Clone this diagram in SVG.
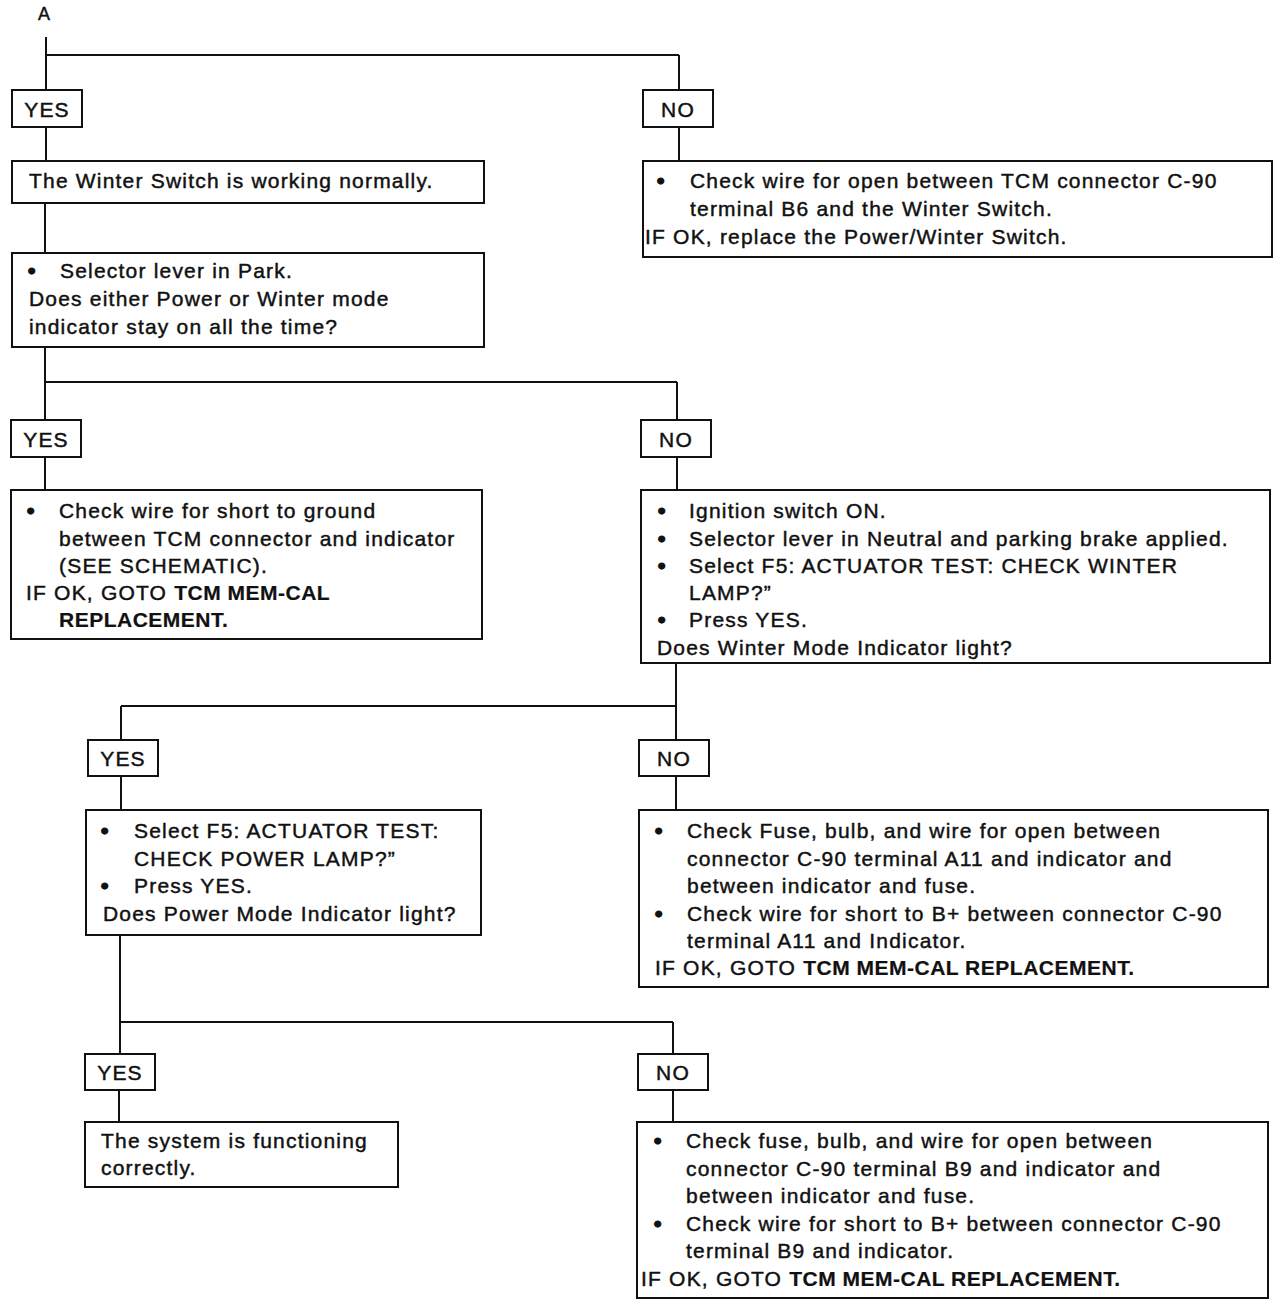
<svg xmlns="http://www.w3.org/2000/svg" width="1280" height="1308" viewBox="0 0 1280 1308">
<style>
text{font-family:"Liberation Sans",Arial,sans-serif;font-size:21px;fill:#111;letter-spacing:1.2px;stroke:#111;stroke-width:0.45px}
.b{font-weight:bold;letter-spacing:0.5px;stroke-width:0.2px}
.lbl{text-anchor:middle}
.bu{font-weight:bold;letter-spacing:0;stroke-width:1.3px}
rect{fill:#fff;stroke:#111;stroke-width:2}
.c line{stroke:#111;stroke-width:2}
</style>
<rect x="0" y="0" width="1280" height="1308" style="fill:#fff;stroke:none"/>
<text x="38" y="20" style="font-size:18px">A</text>
<g class="c">
<line x1="46" y1="37" x2="46" y2="90"/>
<line x1="46" y1="55" x2="679" y2="55"/>
<line x1="679" y1="55" x2="679" y2="90"/>
<line x1="46" y1="127" x2="46" y2="161"/>
<line x1="679" y1="127" x2="679" y2="161"/>
<line x1="45" y1="203" x2="45" y2="253"/>
<line x1="45" y1="347" x2="45" y2="420"/>
<line x1="45" y1="382" x2="677" y2="382"/>
<line x1="677" y1="382" x2="677" y2="420"/>
<line x1="45" y1="457" x2="45" y2="490"/>
<line x1="677" y1="457" x2="677" y2="490"/>
<line x1="676" y1="663" x2="676" y2="740"/>
<line x1="121" y1="706" x2="676" y2="706"/>
<line x1="121" y1="706" x2="121" y2="740"/>
<line x1="121" y1="776" x2="121" y2="810"/>
<line x1="676" y1="776" x2="676" y2="810"/>
<line x1="120" y1="935" x2="120" y2="1054"/>
<line x1="120" y1="1022" x2="673" y2="1022"/>
<line x1="673" y1="1022" x2="673" y2="1054"/>
<line x1="119" y1="1090" x2="119" y2="1122"/>
<line x1="673" y1="1090" x2="673" y2="1122"/>
</g>
<g id="yes1"><rect x="12" y="90" width="70" height="37"/><text class="lbl" x="47" y="117">YES</text></g>
<g id="no1"><rect x="643" y="90" width="70" height="37"/><text class="lbl" x="678" y="117">NO</text></g>
<g id="winter-normal"><rect x="12" y="161" width="472" height="42"/><text x="29" y="188">The Winter Switch is working normally.</text></g>
<g id="check-b6"><rect x="643" y="161" width="629" height="96"/>
<text class="bu" x="657" y="188">•</text><text x="690" y="188">Check wire for open between TCM connector C-90</text>
<text x="690" y="216">terminal B6 and the Winter Switch.</text>
<text x="645" y="244">IF OK, replace the Power/Winter Switch.</text></g>
<g id="park"><rect x="12" y="253" width="472" height="94"/>
<text class="bu" x="28" y="278">•</text><text x="60" y="278">Selector lever in Park.</text>
<text x="29" y="306">Does either Power or Winter mode</text>
<text x="29" y="334">indicator stay on all the time?</text></g>
<g id="yes2"><rect x="11" y="420" width="70" height="37"/><text class="lbl" x="46" y="447">YES</text></g>
<g id="no2"><rect x="641" y="420" width="70" height="37"/><text class="lbl" x="676" y="447">NO</text></g>
<g id="short-ground"><rect x="11" y="490" width="471" height="149"/>
<text class="bu" x="27" y="518">•</text><text x="59" y="518">Check wire for short to ground</text>
<text x="59" y="546">between TCM connector and indicator</text>
<text x="59" y="573">(SEE SCHEMATIC).</text>
<text x="26" y="600">IF OK, GOTO <tspan class="b">TCM MEM-CAL</tspan></text>
<text class="b" x="59" y="627">REPLACEMENT.</text></g>
<g id="ignition"><rect x="641" y="490" width="629" height="173"/>
<text class="bu" x="658" y="518">•</text><text x="689" y="518">Ignition switch ON.</text>
<text class="bu" x="658" y="546">•</text><text x="689" y="546">Selector lever in Neutral and parking brake applied.</text>
<text class="bu" x="658" y="573">•</text><text x="689" y="573">Select F5:  ACTUATOR TEST: CHECK WINTER</text>
<text x="689" y="600">LAMP?”</text>
<text class="bu" x="658" y="627">•</text><text x="689" y="627">Press YES.</text>
<text x="657" y="655">Does Winter Mode Indicator light?</text></g>
<g id="yes3"><rect x="88" y="740" width="70" height="36"/><text class="lbl" x="123" y="766">YES</text></g>
<g id="no3"><rect x="639" y="740" width="70" height="36"/><text class="lbl" x="674" y="766">NO</text></g>
<g id="power-lamp"><rect x="86" y="810" width="395" height="125"/>
<text class="bu" x="101" y="838">•</text><text x="134" y="838">Select F5: ACTUATOR TEST:</text>
<text x="134" y="866">CHECK POWER LAMP?”</text>
<text class="bu" x="101" y="893">•</text><text x="134" y="893">Press YES.</text>
<text x="103" y="921">Does Power Mode Indicator light?</text></g>
<g id="check-a11"><rect x="639" y="810" width="629" height="177"/>
<text class="bu" x="655" y="838">•</text><text x="687" y="838">Check Fuse, bulb, and wire for open between</text>
<text x="687" y="866">connector C-90 terminal A11 and indicator and</text>
<text x="687" y="893">between indicator and fuse.</text>
<text class="bu" x="655" y="921">•</text><text x="687" y="921">Check wire for short to B+ between connector C-90</text>
<text x="687" y="948">terminal A11 and Indicator.</text>
<text x="655" y="975">IF OK, GOTO <tspan class="b">TCM MEM-CAL REPLACEMENT.</tspan></text></g>
<g id="yes4"><rect x="85" y="1054" width="70" height="36"/><text class="lbl" x="120" y="1080">YES</text></g>
<g id="no4"><rect x="638" y="1054" width="70" height="36"/><text class="lbl" x="673" y="1080">NO</text></g>
<g id="functioning"><rect x="85" y="1122" width="313" height="65"/>
<text x="101" y="1148">The system is functioning</text>
<text x="101" y="1175">correctly.</text></g>
<g id="check-b9"><rect x="637" y="1122" width="631" height="176"/>
<text class="bu" x="654" y="1148">•</text><text x="686" y="1148">Check fuse, bulb, and wire for open between</text>
<text x="686" y="1176">connector C-90 terminal B9 and indicator and</text>
<text x="686" y="1203">between indicator and fuse.</text>
<text class="bu" x="654" y="1231">•</text><text x="686" y="1231">Check wire for short to B+ between connector C-90</text>
<text x="686" y="1258">terminal B9 and indicator.</text>
<text x="641" y="1286">IF OK, GOTO <tspan class="b">TCM MEM-CAL REPLACEMENT.</tspan></text></g>
</svg>
